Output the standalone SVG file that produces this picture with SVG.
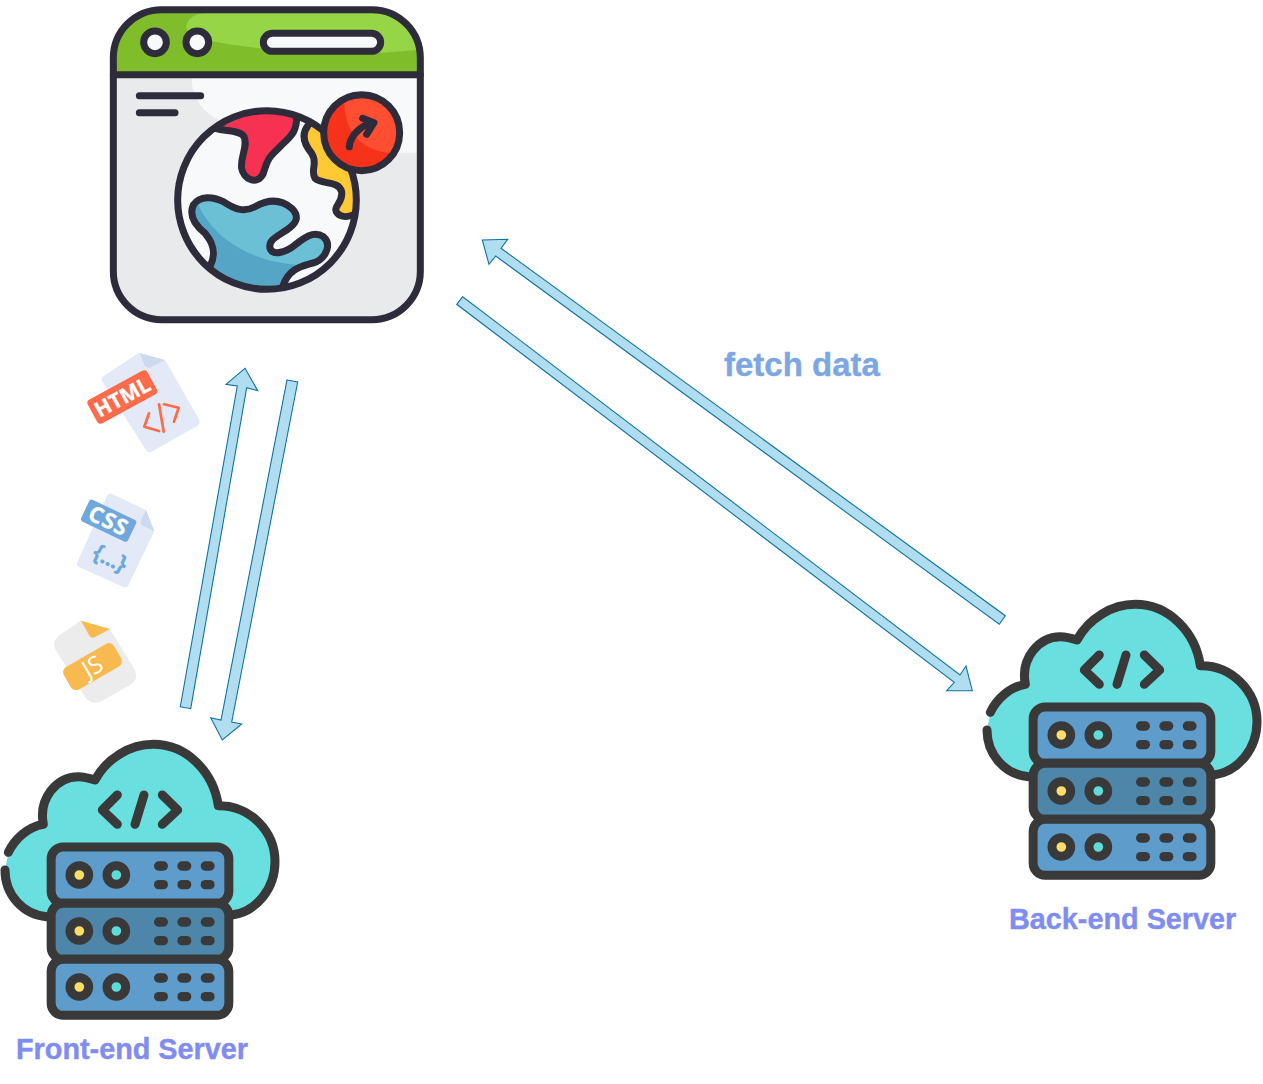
<svg xmlns="http://www.w3.org/2000/svg" width="1263" height="1084" viewBox="0 0 1263 1084">
<style>
.dk{fill:none;stroke:#2e2c3b;stroke-width:21;stroke-linecap:round;stroke-linejoin:round}
.sv{stroke:#393939;stroke-width:27;stroke-linecap:round;stroke-linejoin:round}
.pill{fill:#393939}
.arrow{fill:#b1ddf0;stroke:#10739e;stroke-width:1.100}
.lbl{font-family:"Liberation Sans",Arial,sans-serif;font-weight:700;stroke-width:.4}
.tag{font-family:"Open Sans","Liberation Sans",sans-serif;font-weight:700;fill:#fff;text-anchor:middle}
</style>
<defs>
<clipPath id="globeClip"><circle cx="501" cy="600" r="268"/></clipPath>
<clipPath id="badgeClip"><circle cx="785" cy="397" r="114"/></clipPath>
<path id="blueShape" d="M330,800C350,760 340,730 315,700C290,680 265,650 280,615C300,585 340,590 370,605C400,625 430,640 465,620C500,600 540,595 575,625C600,650 590,670 560,690C530,710 505,720 510,745C520,770 560,755 585,735C610,715 640,690 670,710C695,730 680,770 650,785C610,800 570,800 550,855L500,900L330,800Z"/>
<clipPath id="blueClip"><use href="#blueShape"/></clipPath>
<g id="row">
<circle cx="238" cy="420" r="28" fill="#ffdd66" stroke="#393939" stroke-width="27"/>
<circle cx="349" cy="420" r="28" fill="#5fdcd8" stroke="#393939" stroke-width="27"/>
<rect class="pill" x="462" y="379" width="42" height="28" rx="14"/><rect class="pill" x="532" y="379" width="42" height="28" rx="14"/><rect class="pill" x="602" y="379" width="42" height="28" rx="14"/>
<rect class="pill" x="462" y="435" width="42" height="28" rx="14"/><rect class="pill" x="532" y="435" width="42" height="28" rx="14"/><rect class="pill" x="602" y="435" width="42" height="28" rx="14"/>
</g>
<g id="server" transform="translate(0 735) scale(.33333)">
<path d="M25,352C45,310 85,275 130,268C115,190 170,125 235,125C255,125 270,130 285,135C320,70 390,28 460,28C560,28 640,110 655,212C750,210 825,290 825,380C825,460 770,530 695,540L140,545C70,540 15,480 15,405Z" fill="#6adfe0"/>
<path class="sv" fill="none" d="M25,352C45,310 85,275 130,268C115,190 170,125 235,125C255,125 270,130 285,135C320,70 390,28 460,28C560,28 640,110 655,212C750,210 825,290 825,380C825,460 770,530 695,540"/>
<path class="sv" fill="none" d="M15,405C15,480 70,540 140,545"/>
<path class="sv" fill="none" d="M352,180L307,225L352,268M432,180L405,268M487,180L533,225L487,268"/>
<rect class="sv" x="153.500" y="336" width="533" height="169" rx="36" fill="#5e9ccb"/>
<rect class="sv" x="153.500" y="505" width="533" height="168" rx="36" fill="#4d86a9"/>
<rect class="sv" x="153.500" y="673" width="533" height="168" rx="36" fill="#5e9ccb"/>
<use href="#row"/><use href="#row" y="168"/><use href="#row" y="336"/>
</g>
</defs>

<g id="browser" transform="translate(100 0) scale(.33333)">
<rect x="40" y="29" width="921" height="930" rx="145" fill="#e9eaec"/>
<path d="M275,235C275,300 320,350 380,370L800,500C840,480 880,458 905,458H950V235Z" fill="#f8f9fb"/>
<path d="M40,224V174A145,145 0 0 1 185,29H816A145,145 0 0 1 961,174V224Z" fill="#7fbd2b"/>
<path d="M258,80C265,50 290,40 320,40H816C890,40 945,90 950,150C800,165 620,165 480,145C370,130 262,120 258,80Z" fill="#96d545"/>
<rect class="dk" x="40" y="29" width="921" height="930" rx="145"/>
<path class="dk" d="M40,224H961"/>
<circle cx="165" cy="127" r="34" fill="#f8f9fb" stroke="#2e2c3b" stroke-width="21"/>
<circle cx="292" cy="127" r="34" fill="#f8f9fb" stroke="#2e2c3b" stroke-width="21"/>
<rect x="490" y="100" width="352" height="54" rx="27" fill="#f8f9fb" stroke="#2e2c3b" stroke-width="21"/>
<path class="dk" d="M118,287H302M118,338H225"/>
<circle cx="501" cy="600" r="268" fill="#f8f9fb"/>
<g clip-path="url(#globeClip)">
<path d="M350,385C380,395 420,390 432,410C445,440 420,470 425,505C430,535 470,560 490,520C505,470 510,470 540,440C570,410 590,400 590,350L500,320Z" fill="#f73152"/>
<path class="dk" d="M345,385C380,395 420,390 432,410C445,440 420,470 425,505C430,535 470,560 490,520C505,470 510,470 540,440C570,410 590,400 590,350"/>
<path d="M625,375C605,400 610,430 635,460C655,490 630,510 645,535C665,555 715,540 725,575C730,610 695,620 712,640C725,655 750,650 770,640L790,500L700,380Z" fill="#ffc933"/>
<path class="dk" d="M625,375C605,400 610,430 635,460C655,490 630,510 645,535C665,555 715,540 725,575C730,610 695,620 712,640C725,655 750,650 770,640"/>
<use href="#blueShape" fill="#6cc0d6"/>
<g clip-path="url(#blueClip)"><path d="M290,600C320,690 430,790 610,795L650,900L250,900Z" fill="#55a6c6"/></g>
<path class="dk" d="M330,800C350,760 340,730 315,700C290,680 265,650 280,615C300,585 340,590 370,605C400,625 430,640 465,620C500,600 540,595 575,625C600,650 590,670 560,690C530,710 505,720 510,745C520,770 560,755 585,735C610,715 640,690 670,710C695,730 680,770 650,785C610,800 570,800 550,855"/>
</g>
<circle class="dk" cx="501" cy="600" r="268"/>
<circle cx="785" cy="400" r="114" fill="#f7321b"/>
<g clip-path="url(#badgeClip)"><path d="M735,270C720,400 790,470 920,458V270Z" fill="#ff4e31"/></g>
<circle class="dk" cx="785" cy="398" r="114"/>
<path class="dk" d="M748,440C750,410 780,375 822,368M788,355L822,368L800,403"/>
</g>

<g id="html-file">
<path d="M140,353.300L165,360L199.300,420Q200.500,424 197,426L151,452Q148,453.500 146,450L102,381Q100.500,378 103,376.500L137,354Q138.500,353 140,353.300Z" fill="#e3e9f6"/>
<path d="M140,353.300L165,360L150,367.700Q146,368 144,364Z" fill="#cdd9ef"/>
<rect x="88.300" y="383.500" width="68" height="27" rx="4" transform="rotate(-28.500 122.300 397)" fill="#fe6b4a"/>
<text class="tag" x="122.300" y="404.600" font-size="21" stroke="#fff" stroke-width=".3" transform="rotate(-28.500 122.300 397)">HTML</text>
<path d="M149,413.300L144.300,426.700L159,431M159,404.300L163.700,431.700M164,404.300L178.700,407.700L174,421.700" fill="none" stroke="#fe6b4a" stroke-width="2.700" stroke-linecap="round" stroke-linejoin="round"/>
</g>
<g id="css-file">
<path d="M112,493.800L146,510L154.300,531L128.500,585Q127,588.500 123.500,587L79,567Q76,565.500 77.500,562L107,496Q108.500,492.500 112,493.800Z" fill="#e3e9f6"/>
<path d="M146,510L154.300,531L143,526Q140,524 141,520Z" fill="#cdd9ef"/>
<rect x="82.600" y="508.700" width="52" height="24" rx="3" transform="rotate(25.500 108.600 520.700)" fill="#6fa8dc"/>
<text class="tag" x="108.600" y="528.500" font-size="22" letter-spacing="1" stroke="#fff" stroke-width=".3" transform="rotate(25.500 108.600 520.700)">CSS</text>
<text x="110" y="566" font-family="'Open Sans','Liberation Sans',sans-serif" font-size="24" font-weight="700" letter-spacing="-1" fill="#6fa8dc" text-anchor="middle" transform="rotate(25.500 110 557.700)">{...}</text>
</g>
<g id="js-file">
<path d="M81,620.700L110,629L135,670Q139,680 130,685L102,701Q92,706 85,697L57,652Q50,642 60,635Z" fill="#ececec"/>
<path d="M81,620.700L110,629L95,637Q91,639 89,635Z" fill="#f8b94f"/>
<rect x="63.500" y="653.700" width="58" height="26" rx="6" transform="rotate(-30 92.500 666.700)" fill="#f8b94f"/>
<text x="92.500" y="675" font-family="'Open Sans','Liberation Sans',sans-serif" font-size="24" fill="#fff" text-anchor="middle" transform="rotate(-30 92.500 666.700)">JS</text>
</g>

<g id="connectors">
<polygon class="arrow" points="180.300,706.700 190.700,708.700 246.700,387.700 257.700,390.700 245,368.300 226,384.300 237.300,386"/>
<polygon class="arrow" points="287,380 297.700,382 231.700,722 241.700,724 222.300,740 210.700,717.700 221,720"/>
<polygon class="arrow" points="1005.300,615.700 999.300,624.300 495.700,256 489,264.300 482.300,240 507.700,239.300 501,248.300"/>
<polygon class="arrow" points="462.700,296.700 456.700,304.300 954.300,682.300 946.700,690.700 972.300,690.700 966,666 960,675"/>
</g>

<g id="front-end-server"><use href="#server"/><text class="lbl" x="16" y="1059" font-size="28.800" fill="#7f8cf0" stroke="#7f8cf0">Front-end Server</text></g>
<g id="back-end-server"><use href="#server" x="982" y="-140"/><text class="lbl" x="1009" y="929" font-size="28.800" fill="#7f8cf0" stroke="#7f8cf0">Back-end Server</text></g>
<g id="fetch-label"><text class="lbl" x="724" y="376" font-size="33" fill="#7da7e3" stroke="#7da7e3">fetch data</text></g>
</svg>
